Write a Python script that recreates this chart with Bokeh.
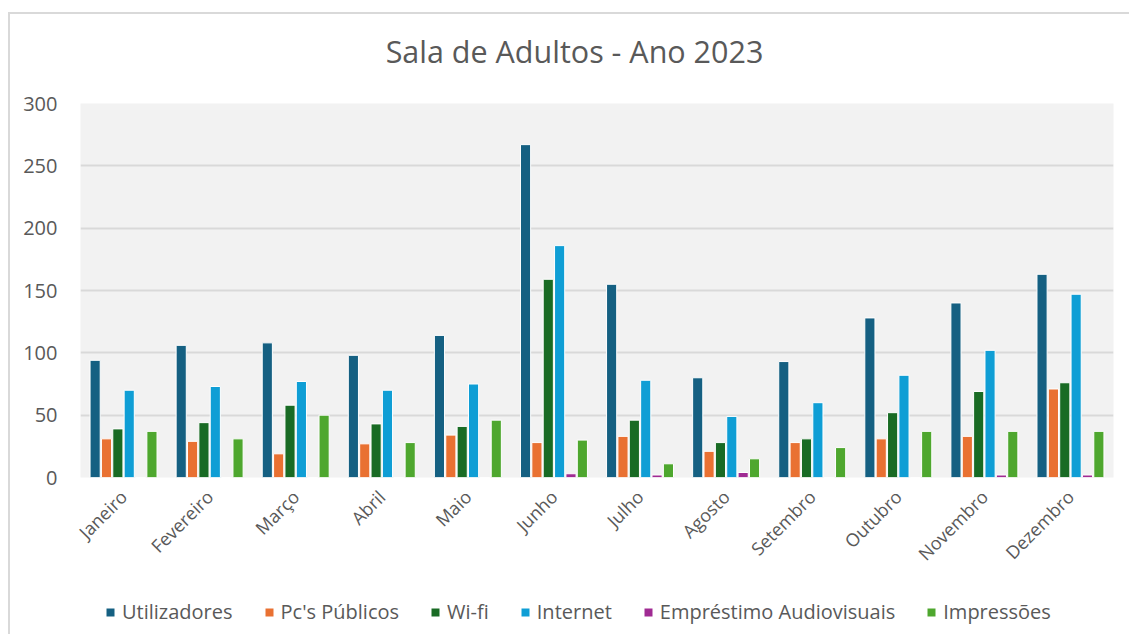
from bokeh.plotting import figure
from bokeh.models import (ColumnDataSource, FactorRange, Range1d, Legend, LegendItem,
                          SingleIntervalTicker)
from bokeh.core.properties import value
from bokeh.layouts import column
from bokeh.transform import dodge
from bokeh.embed import file_html
from bokeh.resources import INLINE
import math

title_text = "Sala de Adultos - Ano 2023"
months = ["Janeiro", "Fevereiro", "Março", "Abril", "Maio", "Junho", "Julho",
          "Agosto", "Setembro", "Outubro", "Novembro", "Dezembro"]
utilizadores = [94, 106, 108, 98, 114, 267, 155, 80, 93, 128, 140, 163]
pcs_publicos = [31, 29, 19, 27, 34, 28, 33, 21, 28, 31, 33, 71]
wifi = [39, 44, 58, 43, 41, 159, 46, 28, 31, 52, 69, 76]
internet = [70, 73, 77, 70, 75, 186, 78, 49, 60, 82, 102, 147]
audiovisuais = [0, 0, 0, 0, 0, 3, 2, 4, 0, 0, 2, 2]
impressoes = [37, 31, 50, 28, 46, 30, 11, 15, 24, 37, 37, 37]

series_names = ["Utilizadores", "Pc's Públicos", "Wi-fi", "Internet",
                "Empréstimo Audiovisuais", "Impressões"]
series_keys = ["u", "pc", "wf", "inet", "av", "imp"]
colors = ["#156082", "#E97132", "#196B24", "#0F9ED5", "#A02B93", "#4EA72E"]

source = ColumnDataSource(data=dict(
    months=months, u=utilizadores, pc=pcs_publicos, wf=wifi,
    inet=internet, av=audiovisuais, imp=impressoes))

FONT = "Open Sans"
GREY = "#595959"

# title strip (its frame is aligned with the main chart frame: page x 80..1113)
pt = figure(width=1119, height=60, output_backend="svg", toolbar_location=None,
            x_range=Range1d(80, 1113), y_range=Range1d(0, 60),
            min_border_left=0, min_border_right=0, min_border_top=0, min_border_bottom=0)
pt.axis.visible = False
pt.grid.grid_line_color = None
pt.outline_line_color = None
pt.background_fill_color = "white"
pt.text(x=[574], y=[24], text=[title_text], text_font=value(FONT), text_font_size="30.5px",
        text_color=GREY, text_align="center", text_baseline="middle")

p = figure(x_range=FactorRange(*months, range_padding=0), y_range=Range1d(0, 300),
           width=1119, height=516, output_backend="svg", toolbar_location=None,
           min_border_left=70, min_border_right=16, min_border_top=29, min_border_bottom=113)

p.background_fill_color = "#f2f2f2"
p.border_fill_color = "white"
p.outline_line_color = None

pitch = 0.132
for i, (key, col) in enumerate(zip(series_keys, colors)):
    p.vbar(x=dodge("months", (i - 2.5) * pitch, range=p.x_range), top=key,
           width=0.118, source=source, fill_color=col, line_color="white",
           line_width=1)

p.yaxis.ticker = SingleIntervalTicker(interval=50)
p.yaxis.axis_line_color = None
p.yaxis.major_tick_line_color = None
p.yaxis.minor_tick_line_color = None
p.yaxis.major_label_text_font = FONT
p.yaxis.major_label_text_font_size = "20px"
p.yaxis.major_label_text_color = GREY
p.yaxis.major_label_standoff = 17

p.xaxis.axis_line_color = None
p.xaxis.major_tick_line_color = None
p.xaxis.major_label_orientation = math.pi / 4
p.xaxis.major_label_text_font = FONT
p.xaxis.major_label_text_font_size = "18px"
p.xaxis.major_label_text_color = GREY
p.xaxis.major_label_standoff = 10

p.xgrid.grid_line_color = None
p.ygrid.grid_line_color = "#d9d9d9"
p.ygrid.grid_line_width = 2

# legend strip below the chart (frame aligned with the main chart frame)
pl = figure(width=1119, height=44, output_backend="svg", toolbar_location=None,
            x_range=Range1d(0, 1), y_range=Range1d(0, 1),
            min_border_left=0, min_border_right=0, min_border_top=0, min_border_bottom=0)
pl.axis.visible = False
pl.grid.grid_line_color = None
pl.outline_line_color = None
pl.background_fill_color = "white"
pl.border_fill_color = "white"
items = []
for name, col in zip(series_names, colors):
    r = pl.vbar(x=[-5], top=[0], bottom=[0], width=0.1, fill_color=col, line_color=None)
    items.append(LegendItem(label=name, renderers=[r]))
legend = Legend(items=items, orientation="horizontal", location=(25, 9))
legend.label_text_font = FONT
legend.label_text_font_size = "20px"
legend.label_text_color = GREY
legend.glyph_width = 10
legend.glyph_height = 10
legend.spacing = 31
legend.label_standoff = 7
legend.border_line_color = None
legend.background_fill_alpha = 0
legend.padding = 2
legend.margin = 0
pl.add_layout(legend, "center")

layout = column(pt, p, pl, spacing=0, margin=(12, 0, 0, 8),
                styles={"border-top": "2px solid #d9d9d9", "border-left": "2px solid #d9d9d9"})

open("out.html", "w").write(file_html(layout, INLINE))
